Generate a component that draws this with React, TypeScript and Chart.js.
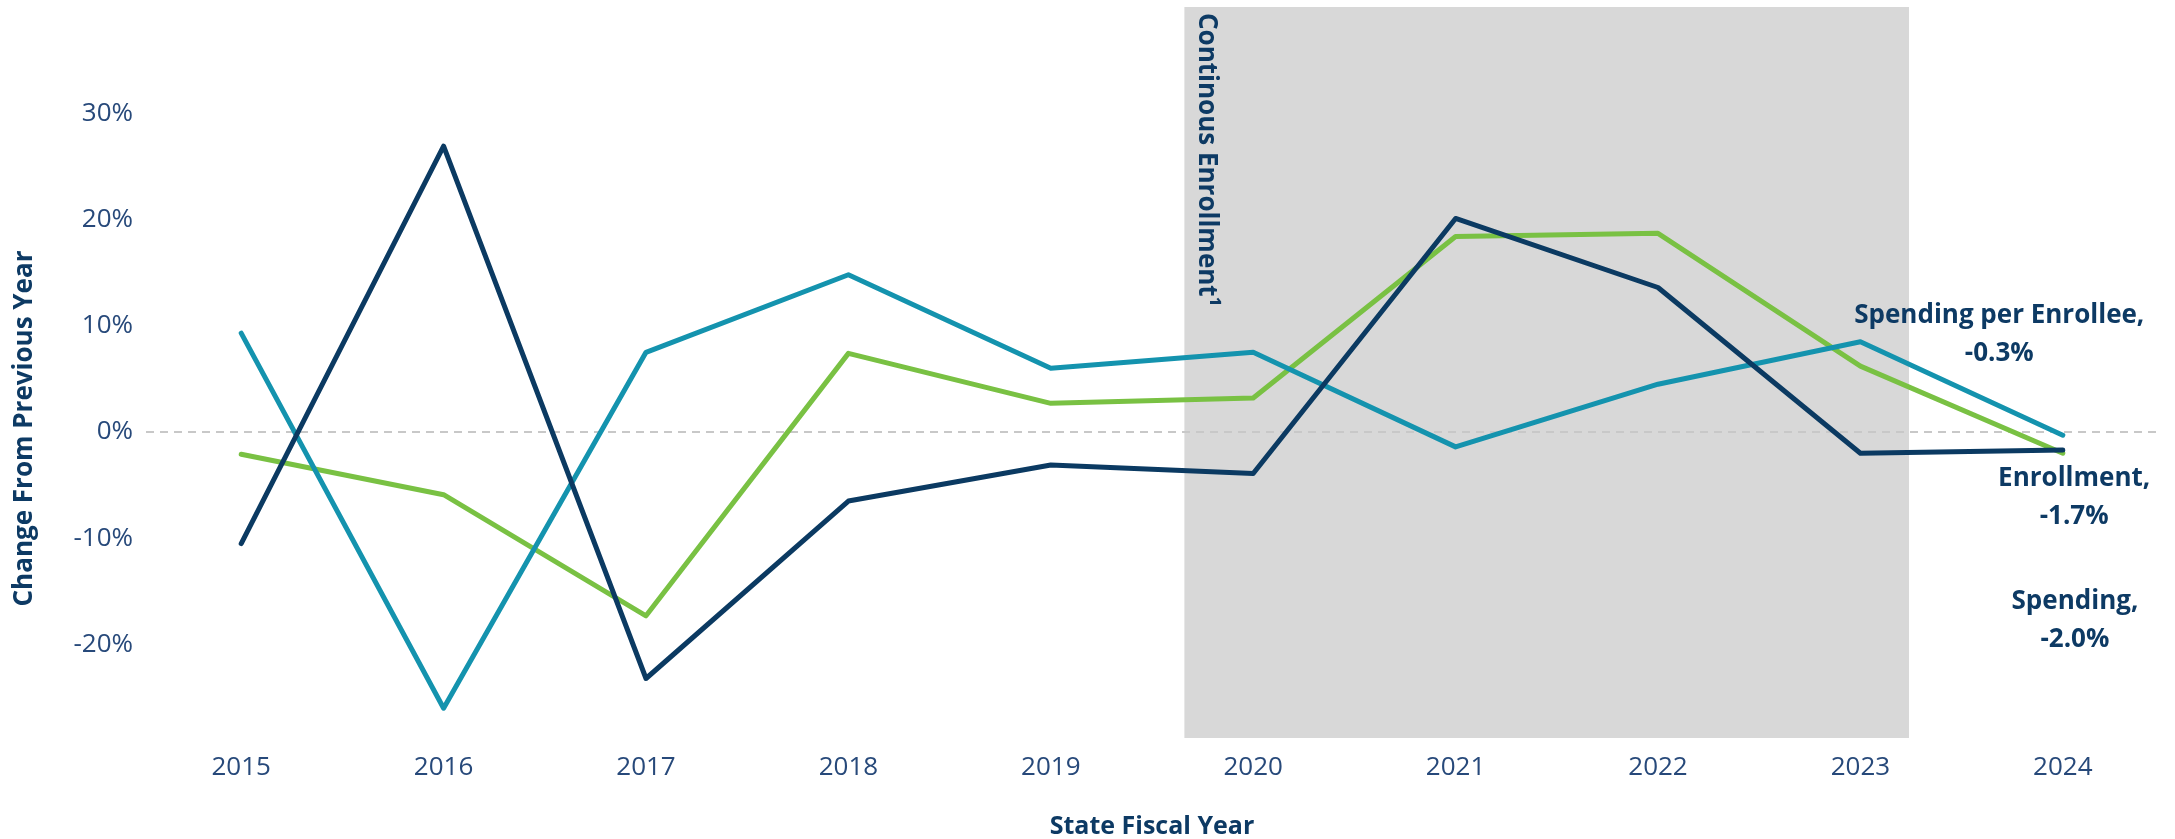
import React, { useEffect, useRef } from 'react';
import { Chart, registerables } from 'chart.js';

Chart.register(...registerables);

// ---- Data (percent change from previous year) ----
const YEARS = ['2015', '2016', '2017', '2018', '2019', '2020', '2021', '2022', '2023', '2024'];
const ENROLLMENT = [-10.5, 26.9, -23.2, -6.5, -3.1, -3.9, 20.1, 13.6, -2.0, -1.7];
const SPENDING_PER_ENROLLEE = [9.3, -26.0, 7.5, 14.8, 6.0, 7.5, -1.4, 4.5, 8.5, -0.3];
const SPENDING = [-2.1, -5.9, -17.3, 7.4, 2.7, 3.2, 18.4, 18.7, 6.2, -2.0];

const Y_TICKS = [-20, -10, 0, 10, 20, 30];
const Y_MIN = -28.8;
const Y_MAX = 40;

// Shaded period (category index units) and its label
const SHADE_FROM = 4.66;
const SHADE_TO = 8.24;
const SHADE_LABEL = 'Continous Enrollment\u00B9';

// End-of-line annotations: x in category index units, y in percent (first line centre)
const END_LABELS = [
  { lines: ['Spending per Enrollee,', '-0.3%'], x: 8.686, y: 11.0 },
  { lines: ['Enrollment,', '-1.7%'], x: 9.056, y: -4.4 },
  { lines: ['Spending,', '-2.0%'], x: 9.06, y: -16.0 },
];

const Y_TITLE = 'Change From Previous Year';
const X_TITLE = 'State Fiscal Year';

const NAVY = '#0B3A62';
const TEAL = '#1493AE';
const GREEN = '#79C143';
const TEXT_DARK = '#0D3A64';
const TEXT_TICK = '#27497A';
const SHADE_COLOR = '#D8D8D8';
const FONT = '"Open Sans", "Noto Sans", sans-serif';

export default function App() {
  const ref = useRef<HTMLCanvasElement>(null);

  useEffect(() => {
    document.body.style.margin = '0';
    const canvas = ref.current;
    if (!canvas) return;

    const decor = {
      id: 'decor',
      beforeDatasetsDraw(chart: any) {
        const { ctx, chartArea, scales } = chart;
        const x = scales.x;
        const y = scales.y;
        const x0 = x.getPixelForValue(SHADE_FROM);
        const x1 = x.getPixelForValue(SHADE_TO);
        const yTop = y.getPixelForValue(Y_MAX);
        const yBot = y.getPixelForValue(Y_MIN);
        ctx.save();
        ctx.fillStyle = SHADE_COLOR;
        ctx.fillRect(x0, yTop, x1 - x0, yBot - yTop);

        // zero reference line
        const y0 = y.getPixelForValue(0);
        ctx.strokeStyle = '#C8C8C8';
        ctx.lineWidth = 2;
        ctx.setLineDash([8, 6]);
        ctx.beginPath();
        ctx.moveTo(chartArea.left + 6, y0);
        ctx.lineTo(chartArea.right - 8, y0);
        ctx.stroke();
        ctx.setLineDash([]);

        // rotated shade label
        ctx.translate(x0 + 22, yTop + 6);
        ctx.rotate(Math.PI / 2);
        ctx.font = `bold 26px ${FONT}`;
        ctx.fillStyle = TEXT_DARK;
        ctx.textAlign = 'left';
        ctx.textBaseline = 'middle';
        ctx.fillText(SHADE_LABEL, 0, 0);
        ctx.restore();
      },
      afterDatasetsDraw(chart: any) {
        const { ctx, chartArea, scales } = chart;
        const x = scales.x;
        const y = scales.y;
        ctx.save();
        ctx.font = `bold 26px ${FONT}`;
        ctx.fillStyle = TEXT_DARK;
        ctx.textAlign = 'center';
        ctx.textBaseline = 'middle';
        END_LABELS.forEach((lab) => {
          const px = x.getPixelForValue(lab.x);
          const py = y.getPixelForValue(lab.y);
          lab.lines.forEach((t, i) => ctx.fillText(t, px, py + i * 38));
        });

        // y axis title
        ctx.translate(25, (chartArea.top + chartArea.bottom) / 2 + 56);
        ctx.rotate(-Math.PI / 2);
        ctx.font = `bold 26px ${FONT}`;
        ctx.fillText(Y_TITLE, 0, 0);
        ctx.restore();
      },
    };

    const chart = new Chart(canvas, {
      type: 'line',
      data: {
        labels: YEARS,
        datasets: [
          { label: 'Enrollment', data: ENROLLMENT, borderColor: NAVY },
          { label: 'Spending per Enrollee', data: SPENDING_PER_ENROLLEE, borderColor: TEAL },
          { label: 'Spending', data: SPENDING, borderColor: GREEN },
        ].map((d) => ({
          ...d,
          borderWidth: 5,
          pointRadius: 0,
          pointHoverRadius: 0,
          tension: 0,
          fill: false,
          borderCapStyle: 'round' as const,
          borderJoinStyle: 'round' as const,
        })),
      },
      options: {
        animation: false,
        responsive: false,
        devicePixelRatio: 1,
        layout: { padding: { top: 7, right: 11, left: 0, bottom: 0 } },
        plugins: {
          legend: { display: false },
          tooltip: { enabled: false },
          title: { display: false },
        },
        scales: {
          x: {
            type: 'category',
            offset: true,
            grid: { display: false, drawTicks: false },
            border: { display: false },
            ticks: {
              color: TEXT_TICK,
              font: { family: FONT, size: 26 },
              padding: 14,
              maxRotation: 0,
              autoSkip: false,
            },
            title: {
              display: true,
              text: X_TITLE,
              color: TEXT_DARK,
              font: { family: FONT, size: 25, weight: 'bold', lineHeight: 1 },
              padding: { top: 0, bottom: 0 },
            },
            afterFit: (s: any) => {
              s.height = 101;
              s.paddingLeft = 0;
              s.paddingRight = 0;
            },
          },
          y: {
            type: 'linear',
            min: Y_MIN,
            max: Y_MAX,
            grid: { display: false, drawTicks: false },
            border: { display: false },
            afterBuildTicks: (s: any) => {
              s.ticks = Y_TICKS.map((v) => ({ value: v }));
            },
            ticks: {
              color: TEXT_TICK,
              font: { family: FONT, size: 26 },
              padding: 7,
              callback: (v: any) => `${v}%`,
            },
            afterFit: (s: any) => {
              s.width = 140;
              s.paddingTop = 0;
              s.paddingBottom = 0;
            },
          },
        },
      },
      plugins: [decor],
    });

    return () => chart.destroy();
  }, []);

  return (
    <canvas
      ref={ref}
      width={2175}
      height={839}
      style={{ position: 'absolute', left: 0, top: 0, width: 2175, height: 839, display: 'block' }}
    />
  );
}
